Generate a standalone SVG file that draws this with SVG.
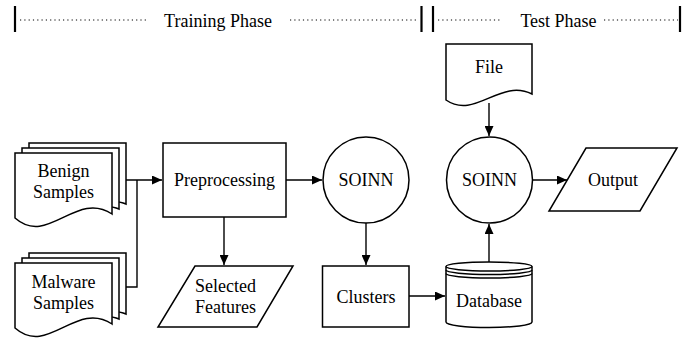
<svg xmlns="http://www.w3.org/2000/svg" width="697" height="341" viewBox="0 0 697 341">
<style>
.s{fill:#fff;stroke:#000;stroke-width:1.5}
.t{font-family:"Liberation Serif","Times New Roman",serif;font-size:18px;fill:#000;text-anchor:middle}
.c{fill:none;stroke:#000;stroke-width:1.4}
.d{fill:none;stroke:#000;stroke-width:1.2;stroke-dasharray:1.2 3.1}
.b{stroke:#000;stroke-width:2.2}
</style>
<defs>
<marker id="a" markerUnits="userSpaceOnUse" markerWidth="11" markerHeight="9" refX="10" refY="4.5" orient="auto">
<path d="M0,0 L10,4.5 L0,9 Z" fill="#000"/>
</marker>
</defs>
<g id="header">
<line class="b" x1="15" y1="6" x2="15" y2="32"/>
<line class="d" x1="20" y1="20" x2="149" y2="20"/>
<text class="t" x="218" y="27">Training Phase</text>
<line class="d" x1="290" y1="20" x2="419" y2="20"/>
<line class="b" x1="421.5" y1="6" x2="421.5" y2="32"/>
<line class="b" x1="433" y1="6" x2="433" y2="32"/>
<line class="d" x1="438" y1="20" x2="501" y2="20"/>
<text class="t" x="558.5" y="27">Test Phase</text>
<line class="d" x1="604" y1="20" x2="678" y2="20"/>
<line class="b" x1="680" y1="6" x2="680" y2="32"/>
</g>
<g id="benign">
<path class="s" d="M29,143 H126 V204 C114,198 90,204 29,208 Z"/>
<path class="s" d="M22,148 H119 V209 C107,203 83,209 22,213 Z"/>
<path class="s" d="M15,153 H112 V214 C76,190 48,247 15,218 Z"/>
<text class="t" x="63.5" y="177">Benign</text>
<text class="t" x="63.5" y="198">Samples</text>
</g>
<g id="malware">
<path class="s" d="M29,253 H126 V314 C114,308 90,314 29,318 Z"/>
<path class="s" d="M22,258 H119 V319 C107,313 83,319 22,323 Z"/>
<path class="s" d="M15,263 H112 V324 C76,300 48,357 15,328 Z"/>
<text class="t" x="63.5" y="288">Malware</text>
<text class="t" x="63.5" y="309">Samples</text>
</g>
<g id="preprocessing">
<rect class="s" x="163" y="143" width="123" height="74"/>
<text class="t" x="224.5" y="186">Preprocessing</text>
</g>
<g id="selected">
<polygon class="s" points="195,266 293,266 257,327 158,327"/>
<text class="t" x="225.5" y="292">Selected</text>
<text class="t" x="225.5" y="313">Features</text>
</g>
<g id="soinn1">
<circle class="s" cx="366" cy="180" r="43"/>
<text class="t" x="366" y="186">SOINN</text>
</g>
<g id="clusters">
<rect class="s" x="322.5" y="266" width="86.5" height="61"/>
<text class="t" x="366" y="303">Clusters</text>
</g>
<g id="file">
<path class="s" d="M446,44 H532 V94 C500,78 475,120 446,100 Z"/>
<text class="t" x="489" y="73">File</text>
</g>
<g id="soinn2">
<circle class="s" cx="489.5" cy="180" r="43"/>
<text class="t" x="489.5" y="186">SOINN</text>
</g>
<g id="output">
<polygon class="s" points="586,148 677,148 640,211 549,211"/>
<text class="t" x="613" y="186">Output</text>
</g>
<g id="database">
<path class="s" d="M446,266.5 V322 A43,5.5 0 0 0 532,322 V266.5 A43,4.5 0 0 0 446,266.5 Z"/>
<path class="c" d="M446,266.5 A43,4.5 0 0 0 532,266.5 M446,270 A43,4.5 0 0 0 532,270 M446,273.5 A43,4.5 0 0 0 532,273.5"/>
<text class="t" x="489" y="307">Database</text>
</g>
<g id="connectors">
<path class="c" d="M126,180 H162" marker-end="url(#a)"/>
<path class="c" d="M126,287 H137 V180"/>
<path class="c" d="M286,180 H322" marker-end="url(#a)"/>
<path class="c" d="M224,217 V265" marker-end="url(#a)"/>
<path class="c" d="M366,223 V265" marker-end="url(#a)"/>
<path class="c" d="M409,296 H445" marker-end="url(#a)"/>
<path class="c" d="M489,103 V136" marker-end="url(#a)"/>
<path class="c" d="M489,262 V224" marker-end="url(#a)"/>
<path class="c" d="M533,180 H567" marker-end="url(#a)"/>
</g>
</svg>
